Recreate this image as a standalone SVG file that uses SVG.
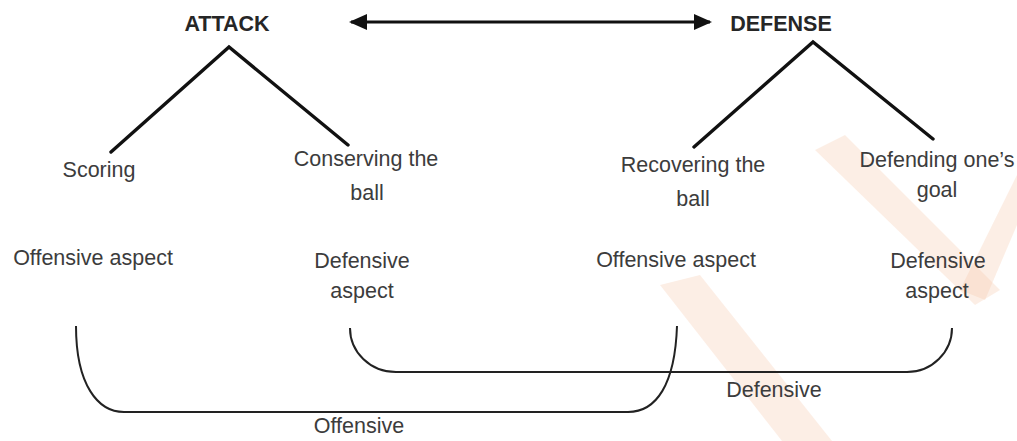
<svg xmlns="http://www.w3.org/2000/svg" width="1017" height="441" viewBox="0 0 1017 441">
  <style>
    .title { font-family: "Liberation Sans", Arial, sans-serif; font-weight: bold; font-size: 21.5px; fill: #262626; text-anchor: middle; }
    .lbl { font-family: "Liberation Sans", Arial, sans-serif; font-size: 21.5px; fill: #3c3c3c; text-anchor: middle; }
    .tree { stroke: #111; stroke-width: 3.4; fill: none; stroke-linecap: round; }
    .brk { stroke: #222; stroke-width: 2; fill: none; }
    .arrow { stroke: #111; stroke-width: 3.2; fill: none; }
    .wm { fill: #f6c7aa; opacity: 0.3; }
  </style>
  <defs>
    <marker id="ah" viewBox="0 0 18 16" refX="16" refY="8" markerWidth="18" markerHeight="16" markerUnits="userSpaceOnUse" orient="auto-start-reverse">
      <path d="M0,0 L18,8 L0,16 Z" fill="#111"/>
    </marker>
  </defs>
  <rect width="1017" height="441" fill="#fff"/>

  <g id="watermark">
    <polygon class="wm" points="660,285 700,275 832,441 782,441"/>
    <polygon class="wm" points="1017,175 1017,225 985,300 960,290"/>
    <polygon class="wm" points="815,150 845,135 1000,290 975,305"/>
  </g>

  <g id="attack">
    <text class="title" x="227" y="31">ATTACK</text>
  </g>
  <g id="defense">
    <text class="title" x="781" y="31">DEFENSE</text>
  </g>
  <g id="scoring">
    <text class="lbl" x="99" y="177">Scoring</text>
    <text class="lbl" x="93" y="265">Offensive aspect</text>
  </g>
  <g id="conserving">
    <text class="lbl" x="366" y="166">Conserving the</text>
    <text class="lbl" x="367" y="200">ball</text>
    <text class="lbl" x="362" y="268">Defensive</text>
    <text class="lbl" x="362" y="298">aspect</text>
  </g>
  <g id="recovering">
    <text class="lbl" x="693" y="172">Recovering the</text>
    <text class="lbl" x="693" y="206">ball</text>
    <text class="lbl" x="676" y="267">Offensive aspect</text>
  </g>
  <g id="defending">
    <text class="lbl" x="937" y="167">Defending one’s</text>
    <text class="lbl" x="937" y="197">goal</text>
    <text class="lbl" x="938" y="268">Defensive</text>
    <text class="lbl" x="937" y="298">aspect</text>
  </g>
  <g id="offensive-label">
    <text class="lbl" x="359" y="433">Offensive</text>
  </g>
  <g id="defensive-label">
    <text class="lbl" x="774" y="397">Defensive</text>
  </g>

  <g id="connectors">
    <line class="arrow" x1="351" y1="22" x2="710" y2="22" marker-start="url(#ah)" marker-end="url(#ah)"/>
    <polyline class="tree" points="111,152 229,47 348,145"/>
    <polyline class="tree" points="694,147 813,42 933,139"/>
    <path class="brk" d="M76,326 C76,385 98,412 124,412 L628,412 C656,412 675,385 677,326"/>
    <path class="brk" d="M350,328 C350,352 370,372 396,372 L907,372 C932,372 952,352 952,328"/>
  </g>
</svg>
